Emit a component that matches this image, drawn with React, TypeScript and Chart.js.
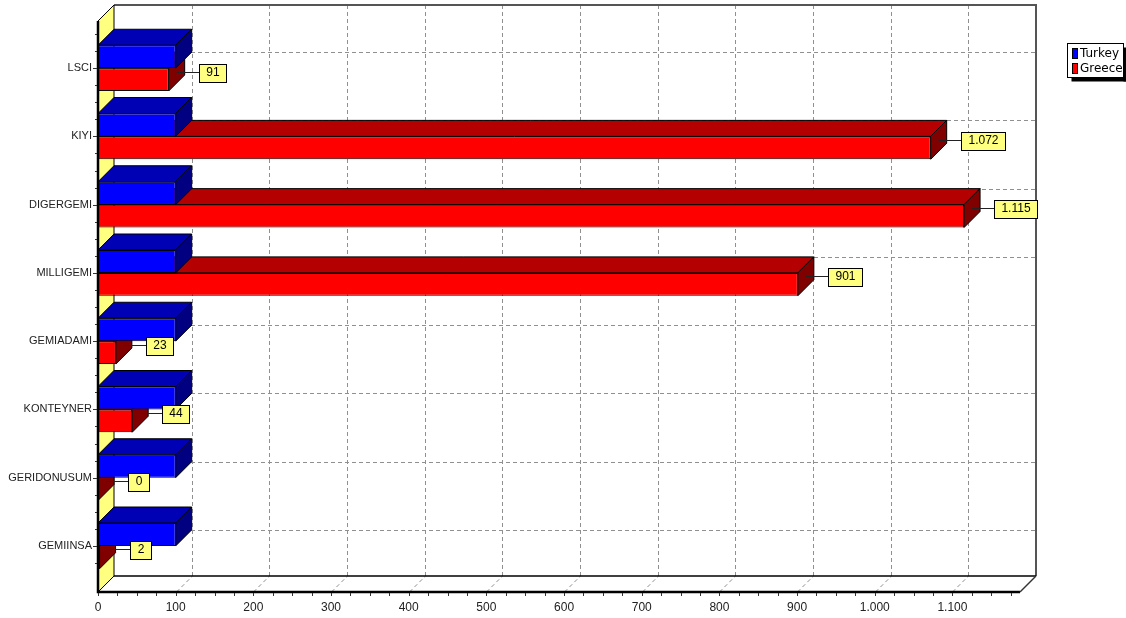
import React, { useEffect, useRef } from 'react';
import { Chart, registerables } from 'chart.js';

Chart.register(...registerables);

const categories = ['LSCI', 'KIYI', 'DIGERGEMI', 'MILLIGEMI', 'GEMIADAMI', 'KONTEYNER', 'GERIDONUSUM', 'GEMIINSA'];
const turkeyValues = [100, 100, 100, 100, 100, 100, 100, 100];
const greeceValues = [91, 1072, 1115, 901, 23, 44, 0, 2];
const xTickValues = [0, 100, 200, 300, 400, 500, 600, 700, 800, 900, 1000, 1100];
const seriesNames = ['Turkey', 'Greece'];
const frontColors = ['#0000FF', '#FF0000'];
const topColors = ['#0000B4', '#B40000'];
const sideColors = ['#000080', '#800000'];

const D = 16;
const AXIS_MAX = 1187;
const FONT = '"Liberation Sans", Arial, sans-serif';

function fmt(v: number): string {
  return Math.round(v).toString().replace(/\B(?=(\d{3})+(?!\d))/g, '.');
}

function frame(chart: any) {
  const ca = chart.chartArea;
  const x = chart.scales.x;
  const fL = x.getPixelForValue(0);
  const fR = ca.right;
  const fT = ca.top - 13;
  const fB = ca.bottom + 12;
  return { fL, fR, fT, fB, bL: fL + D, bR: fR + D, bT: fT - D, bB: fB - D };
}

const threeDPlugin = {
  id: 'threeD',
  beforeDatasetsDraw(chart: any) {
    const { ctx } = chart;
    const xs = chart.scales.x;
    const ys = chart.scales.y;
    const f = frame(chart);
    ctx.save();
    // back wall grid
    ctx.setLineDash([4, 3]);
    ctx.strokeStyle = '#909090';
    ctx.lineWidth = 1;
    xTickValues.forEach((v) => {
      if (v === 0) return;
      const px = Math.round(xs.getPixelForValue(v)) + 0.5;
      ctx.beginPath();
      ctx.moveTo(px + D, f.bT);
      ctx.lineTo(px + D, f.bB);
      ctx.stroke();
      ctx.beginPath();
      ctx.moveTo(px, f.fB);
      ctx.lineTo(px + D, f.bB);
      ctx.stroke();
    });
    categories.forEach((c, i) => {
      const py = Math.round(ys.getPixelForValue(i)) + 0.5 - D;
      ctx.beginPath();
      ctx.moveTo(f.bL, py);
      ctx.lineTo(f.bR, py);
      ctx.stroke();
    });
    ctx.setLineDash([]);
    // back frame
    ctx.strokeStyle = '#555';
    ctx.lineWidth = 2;
    ctx.beginPath();
    ctx.moveTo(f.bL, f.bT);
    ctx.lineTo(f.bR, f.bT);
    ctx.lineTo(f.bR, f.bB);
    ctx.stroke();
    ctx.strokeStyle = '#000';
    ctx.lineWidth = 1.5;
    ctx.beginPath();
    ctx.moveTo(f.bL, f.bB);
    ctx.lineTo(f.bR, f.bB);
    ctx.stroke();
    // left wall
    ctx.fillStyle = '#FFFF80';
    ctx.beginPath();
    ctx.moveTo(f.fL, f.fT);
    ctx.lineTo(f.bL, f.bT);
    ctx.lineTo(f.bL, f.bB);
    ctx.lineTo(f.fL, f.fB);
    ctx.closePath();
    ctx.fill();
    ctx.strokeStyle = '#000';
    ctx.lineWidth = 1;
    ctx.beginPath();
    ctx.moveTo(f.fL, f.fT);
    ctx.lineTo(f.bL, f.bT);
    ctx.lineTo(f.bL, f.bB);
    ctx.lineTo(f.fL, f.fB);
    ctx.stroke();
    ctx.restore();
  },
  beforeDatasetDraw(chart: any, args: any) {
    const { ctx } = chart;
    const i = args.index;
    ctx.save();
    ctx.lineWidth = 1;
    ctx.strokeStyle = '#000';
    args.meta.data.forEach((el: any) => {
      const L = Math.min(el.base, el.x);
      const R = Math.max(el.base, el.x);
      const T = el.y - el.height / 2;
      const B = el.y + el.height / 2;
      ctx.beginPath();
      ctx.moveTo(L, T);
      ctx.lineTo(L + D, T - D);
      ctx.lineTo(R + D, T - D);
      ctx.lineTo(R, T);
      ctx.closePath();
      ctx.fillStyle = topColors[i];
      ctx.fill();
      ctx.stroke();
      ctx.beginPath();
      ctx.moveTo(R, T);
      ctx.lineTo(R + D, T - D);
      ctx.lineTo(R + D, B - D);
      ctx.lineTo(R, B);
      ctx.closePath();
      ctx.fillStyle = sideColors[i];
      ctx.fill();
      ctx.stroke();
    });
    ctx.restore();
  },
  afterDatasetsDraw(chart: any) {
    const { ctx } = chart;
    const xs = chart.scales.x;
    const ys = chart.scales.y;
    const f = frame(chart);
    ctx.save();
    // front frame
    ctx.strokeStyle = '#000';
    ctx.lineWidth = 2.5;
    ctx.beginPath();
    ctx.moveTo(f.fL, f.fT);
    ctx.lineTo(f.fL, f.fB);
    ctx.lineTo(f.fR, f.fB);
    ctx.stroke();
    ctx.lineWidth = 1.5;
    ctx.strokeStyle = '#333';
    ctx.beginPath();
    ctx.moveTo(f.fR, f.fB);
    ctx.lineTo(f.bR, f.bB);
    ctx.stroke();
    ctx.strokeStyle = '#000';
    ctx.lineWidth = 1;
    ctx.beginPath();
    ctx.moveTo(f.fL, f.fT);
    ctx.lineTo(f.bL, f.bT);
    ctx.stroke();
    // x tick marks (every quarter step)
    ctx.strokeStyle = '#333';
    for (let k = 0; k < xTickValues.length; k++) {
      for (let q = 0; q < 4; q++) {
        const v = xTickValues[k] + q * 25;
        if (v > AXIS_MAX) continue;
        const px = Math.round(xs.getPixelForValue(v)) + 0.5;
        ctx.beginPath();
        ctx.moveTo(px, f.fB + 1);
        ctx.lineTo(px, f.fB + 4);
        ctx.stroke();
      }
    }
    // y tick marks
    const band = (ys.getPixelForValue(1) - ys.getPixelForValue(0));
    categories.forEach((c, i) => {
      const cy = ys.getPixelForValue(i);
      for (let q = -2; q < 2; q++) {
        const py = Math.round(cy + (q * band) / 4) + 0.5;
        ctx.beginPath();
        ctx.moveTo(f.fL - (q === 0 ? 5 : 3), py);
        ctx.lineTo(f.fL - 1, py);
        ctx.stroke();
      }
    });
    // value labels for Greece
    const meta = chart.getDatasetMeta(1);
    ctx.font = '12px ' + FONT;
    ctx.textAlign = 'center';
    ctx.textBaseline = 'middle';
    meta.data.forEach((el: any, idx: number) => {
      const val = greeceValues[idx];
      const txt = fmt(val);
      const xEnd = el.x;
      const cy = Math.round(el.y - D / 2) + 0.5;
      const tw = ctx.measureText(txt).width;
      const bw = Math.round(tw + 14);
      const bh = 18;
      const bx = Math.round(xEnd + 30) + 0.5;
      const by = Math.round(cy - bh / 2);
      ctx.strokeStyle = '#222';
      ctx.lineWidth = 1;
      ctx.beginPath();
      ctx.moveTo(xEnd + D / 2, cy);
      ctx.lineTo(bx, cy);
      ctx.stroke();
      ctx.fillStyle = '#FFFF80';
      ctx.fillRect(bx, by + 0.5, bw, bh);
      ctx.strokeStyle = '#000';
      ctx.strokeRect(bx, by + 0.5, bw, bh);
      ctx.fillStyle = '#000';
      ctx.fillText(txt, bx + bw / 2, cy + 0.5);
    });
    ctx.restore();
  },
  afterDraw(chart: any) {
    const { ctx } = chart;
    ctx.save();
    const lx = 1067.5, ly = 43.5, lw = 56, lh = 34;
    ctx.fillStyle = '#000';
    ctx.fillRect(lx + 4, ly + lh, lw, 4);
    ctx.fillRect(lx + lw, ly + 4, 4, lh);
    ctx.fillStyle = '#fff';
    ctx.fillRect(lx, ly, lw, lh);
    ctx.strokeStyle = '#000';
    ctx.lineWidth = 1;
    ctx.strokeRect(lx, ly, lw, lh);
    ctx.font = '12px "DejaVu Sans", Verdana, sans-serif';
    ctx.textAlign = 'left';
    ctx.textBaseline = 'middle';
    seriesNames.forEach((n, i) => {
      const sy = 48.5 + i * 15;
      ctx.fillStyle = frontColors[i];
      ctx.fillRect(1072.5, sy, 5, 10);
      ctx.strokeRect(1072.5, sy, 5, 10);
      ctx.fillStyle = '#000';
      ctx.fillText(n, 1080, sy + 5.5);
    });
    ctx.restore();
  },
};

export default function App() {
  const ref = useRef<HTMLCanvasElement>(null);
  useEffect(() => {
    document.body.style.margin = '0';
    Chart.defaults.font.family = FONT;
    const chart = new Chart(ref.current as HTMLCanvasElement, {
      type: 'bar',
      data: {
        labels: categories,
        datasets: [
          {
            label: seriesNames[0],
            data: turkeyValues,
            backgroundColor: frontColors[0],
            borderColor: '#000',
            borderWidth: 1,
            borderSkipped: false,
            categoryPercentage: 0.67,
            barPercentage: 1,
          },
          {
            label: seriesNames[1],
            data: greeceValues,
            backgroundColor: frontColors[1],
            borderColor: '#000',
            borderWidth: 1,
            borderSkipped: false,
            categoryPercentage: 0.67,
            barPercentage: 1,
          },
        ],
      },
      options: {
        indexAxis: 'y',
        responsive: false,
        devicePixelRatio: 1,
        animation: false,
        layout: { padding: { left: 0, top: 34, right: 106, bottom: 0 } },
        plugins: { legend: { display: false }, tooltip: { enabled: false } },
        scales: {
          x: {
            type: 'linear',
            position: 'bottom',
            min: 0,
            max: AXIS_MAX,
            afterFit: (s: any) => { s.height = 38; },
            afterBuildTicks: (s: any) => { s.ticks = xTickValues.map((v) => ({ value: v })); },
            grid: { display: false, drawTicks: false },
            border: { display: false },
            ticks: {
              autoSkip: false,
              maxRotation: 0,
              padding: 20,
              color: '#222',
              font: { size: 12, family: FONT },
              callback: (v: any) => fmt(Number(v)),
            },
          },
          y: {
            type: 'category',
            position: 'left',
            offset: true,
            afterFit: (s: any) => { s.width = 98; },
            grid: { display: false, drawTicks: false },
            border: { display: false },
            ticks: {
              autoSkip: false,
              padding: 6,
              color: '#222',
              font: { size: 11, family: FONT },
            },
          },
        },
      },
      plugins: [threeDPlugin],
    } as any);
    return () => chart.destroy();
  }, []);
  return (
    <div style={{ position: 'absolute', left: 0, top: 0, width: 1126, height: 618, background: '#fff' }}>
      <canvas ref={ref} width={1126} height={618} style={{ width: 1126, height: 618, display: 'block' }} />
    </div>
  );
}
